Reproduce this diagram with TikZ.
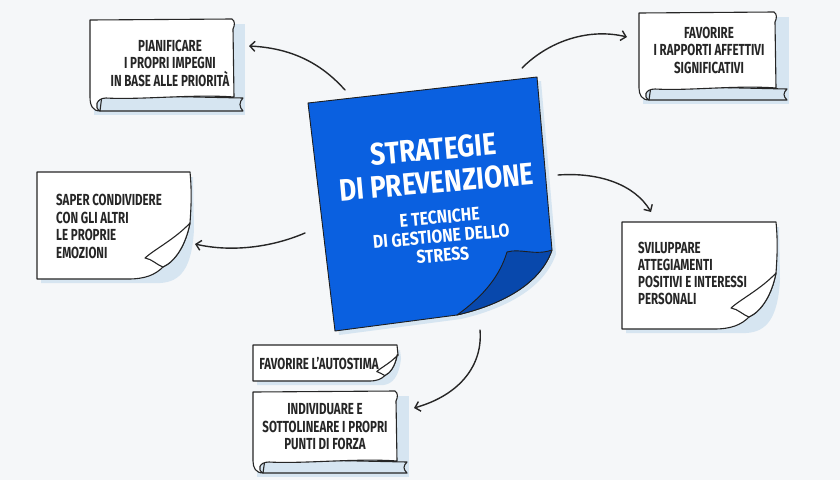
\documentclass[tikz,border=0pt]{standalone}
\usepackage{fontspec}
\setmainfont{Fira Sans}
\newfontfamily\condfont{Fira Sans}[FakeStretch=0.85]
\newfontfamily\notefont{Fira Sans}[FakeStretch=0.72]
\usetikzlibrary{arrows.meta}
\definecolor{bg}{RGB}{245,247,249}
\definecolor{paleblue}{RGB}{214,229,241}
\definecolor{stickyblue}{RGB}{10,96,224}
\definecolor{folddark}{RGB}{8,72,172}
\definecolor{ink}{RGB}{38,38,38}
\tikzset{
  notestroke/.style={draw=ink,line width=1.1pt,line join=round},
  notetext/.style={font={\notefont\bfseries\fontsize{16}{17.5}\selectfont},text=ink,inner sep=0pt},
  titletext/.style={font={\condfont\bfseries\fontsize{31}{33}\selectfont},text=white,align=center,inner sep=0pt},
  link/.style={draw=ink,line width=1.4pt,line cap=round,-{Straight Barb[length=5pt,width=10pt,line width=1.4pt]}}
}
\newcommand\subline[1]{{\fontsize{18.5}{19}\selectfont #1}}
% scroll-like note: x0 y0 x1 y1 stripbottom stripright
\newcommand\ScrollNote[6]{%
  \fill[paleblue] ({#1+4},{#2+5}) rectangle ({#6+2},{#5+4});
  \draw[notestroke,fill=paleblue] ({#1+12},{#4-2}) -- (#6,{#4+1}) .. controls ({#6-4},{#4+5}) and ({#6-4},{#5-4}) .. (#6,#5) -- ({#1+10},#5) -- cycle;
  \draw[notestroke,fill=white] (#1,{#2+1}) -- ({#3-2},#2) .. controls ({#3+1},{#2+2}) and ({#3+1},{#2+6}) .. ({#3-1},{#2+10}) -- (#3,#4) .. controls ({#3-40},{#4-3}) and ({#1+50},{#4+3}) .. ({#1+16},{#4+1}) .. controls ({#1+6},{#4+1}) and ({#1+4},{#5-3}) .. ({#1+10},#5) .. controls ({#1+3},#5) and (#1,{#5-5}) .. (#1,#4) -- cycle;
}
% note with curled lower right corner: x0 y0 x1 y1 scale
\newcommand\CurlNote[5]{%
  \fill[paleblue] ({#1+4},{#2+5}) -- ({#3+3},{#2+5}) -- ({#3+4},{#4-50*#5}) .. controls ({#3+2},{#4-10*#5}) and ({#3-10*#5},{#4+3}) .. ({#3-30*#5},{#4+4}) -- ({#1+4},{#4+4}) -- cycle;
  \draw[notestroke,fill=white] (#1,#2) -- (#3,#2) .. controls ({#3+2},{#2+20}) and ({#3+1},{#4-70*#5}) .. (#3,{#4-56*#5}) .. controls ({#3-4*#5},{#4-35*#5}) and ({#3-14*#5},{#4-18*#5}) .. ({#3-27*#5},{#4-12*#5}) .. controls ({#3-35*#5},{#4-4*#5}) and ({#3-45*#5},#4) .. ({#3-62*#5},#4) -- (#1,#4) -- cycle;
  \draw[notestroke,fill=white] (#3,{#4-56*#5}) .. controls ({#3-15*#5},{#4-40*#5}) and ({#3-35*#5},{#4-30*#5}) .. ({#3-45*#5},{#4-21*#5}) .. controls ({#3-38*#5},{#4-20*#5}) and ({#3-33*#5},{#4-14*#5}) .. ({#3-27*#5},{#4-12*#5}) .. controls ({#3-14*#5},{#4-18*#5}) and ({#3-4*#5},{#4-35*#5}) .. (#3,{#4-56*#5}) -- cycle;
}
\begin{document}
\begin{tikzpicture}[x=1pt,y=-1pt]
\useasboundingbox (0,0) rectangle (840,480);
\fill[bg] (0,0) rectangle (840,480);

% notes
\ScrollNote{90}{19}{234}{97}{111}{243}
\ScrollNote{639}{12}{776}{88}{100}{787}
\ScrollNote{253}{391}{397}{461}{473}{407}
\CurlNote{37}{172}{190}{279}{1}
\CurlNote{622}{222}{776}{329}{1}
\CurlNote{253}{345}{397}{381}{0.45}

% central sticky note
\fill[paleblue] (312,107) -- (541,81) -- (556,254) .. controls (544,289) and (504,309) .. (461,319) -- (339,335) -- cycle;
\draw[draw=ink!80!black,line width=0.9pt,fill=stickyblue,line join=round] (308,103) -- (537,77) -- (552,250) .. controls (540,285) and (500,305) .. (457,315) -- (335,331) -- cycle;
\draw[draw=ink!80!black,line width=0.9pt,fill=folddark,line join=round] (507,252) .. controls (520,248) and (535,256) .. (552,250) .. controls (540,285) and (500,305) .. (457,315) .. controls (485,295) and (500,275) .. (507,252) -- cycle;

\node[titletext,rotate=5] (title) at (438,200) {STRATEGIE\\DI PREVENZIONE\\[-2pt]\subline{E TECNICHE}\\[-14pt]\subline{DI GESTIONE DELLO}\\[-14pt]\subline{STRESS}};

% note texts
\node[notetext,align=center] (n1) at (170,63) {PIANIFICARE\\I PROPRI IMPEGNI\\IN BASE ALLE PRIORITÀ};
\node[notetext,align=center] (n2) at (709,50) {FAVORIRE\\I RAPPORTI AFFETTIVI\\SIGNIFICATIVI};
\node[notetext,align=left,anchor=north west] (n3) at (56,194) {SAPER CONDIVIDERE\\CON GLI ALTRI\\LE PROPRIE\\EMOZIONI};
\node[notetext,align=left,anchor=north west,font={\notefont\bfseries\fontsize{16}{17}\selectfont}] (n4) at (638,242) {SVILUPPARE\\ATTEGIAMENTI\\POSITIVI E INTERESSI\\PERSONALI};
\node[notetext] (n5) at (319,363) {FAVORIRE L’AUTOSTIMA};
\node[notetext,align=center] (n6) at (325,427) {INDIVIDUARE E\\SOTTOLINEARE I PROPRI\\PUNTI DI FORZA};

% connectors
\coordinate (a1s) at (345,90);  \coordinate (a1e) at (249,46);
\coordinate (a2s) at (522,68);  \coordinate (a2e) at (627,37);
\coordinate (a3s) at (558,175); \coordinate (a3e) at (651,212);
\coordinate (a4s) at (305,233); \coordinate (a4e) at (195,244);
\coordinate (a5s) at (480,330); \coordinate (a5e) at (414,408);
\draw[link] (a1s) .. controls (320,62) and (290,48) .. (a1e);
\draw[link] (a2s) .. controls (550,40) and (590,28) .. (a2e);
\draw[link] (a3s) .. controls (600,172) and (635,185) .. (a3e);
\draw[link] (a4s) .. controls (270,248) and (230,252) .. (a4e);
\draw[link] (a5s) .. controls (483,365) and (460,395) .. (a5e);
\end{tikzpicture}
\end{document}
